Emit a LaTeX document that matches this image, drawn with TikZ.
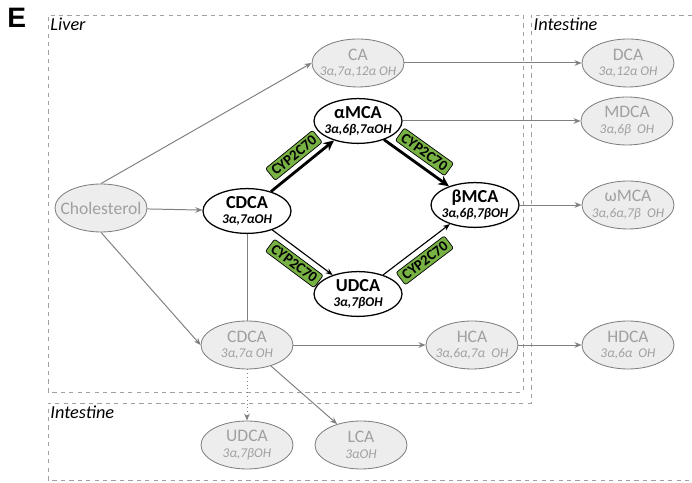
\documentclass[tikz,border=0pt]{standalone}
\usepackage{fontspec}
\setmainfont{Carlito}
\newfontfamily\panelfont{Liberation Sans}
\usetikzlibrary{shapes.geometric,arrows.meta}

\definecolor{acidfill}{HTML}{EDEDED}
\definecolor{acidline}{HTML}{808080}
\definecolor{acidtext}{HTML}{A0A0A0}
\definecolor{regionline}{HTML}{A0A0A0}
\definecolor{enzgreen}{HTML}{78B144}

\tikzset{
  acid/.style={ellipse, inner xsep=-0.3cm, inner ysep=0pt, align=center,
    font=\fontsize{12.5}{12}\selectfont},
  greyacid/.style={acid, minimum width=2.3cm, minimum height=1.2cm,
    draw=acidline, fill=acidfill, text=acidtext, line width=0.6pt},
  mainacid/.style={acid, minimum width=2.2cm, minimum height=1.12cm,
    draw=black, fill=white, line width=0.9pt,
    font=\fontsize{13}{12}\selectfont\bfseries},
  enzyme/.style={draw=black, fill=enzgreen, rounded corners=1.5pt, sloped,
    inner xsep=2.5pt, inner ysep=2pt, line width=0.5pt,
    font=\fontsize{10.5}{10.5}\selectfont\bfseries},
  greyarrow/.style={draw=acidline, line width=0.7pt,
    -{Stealth[length=5pt,width=4pt]}},
  thickarrow/.style={draw=black, line width=2pt,
    -{Stealth[length=7.5pt,width=7pt]}},
  thinarrow/.style={draw=black, line width=0.8pt,
    -{Stealth[length=5pt,width=4pt]}},
  region/.style={draw=regionline, dashed, line width=0.5pt},
  regionname/.style={anchor=north west, inner sep=1pt,
    font=\fontsize{13}{13}\selectfont\itshape}
}
\newcommand{\oh}[1]{\\[-1pt]{\fontsize{9.5}{9.5}\selectfont\itshape #1}}

\begin{document}
\begin{tikzpicture}
\useasboundingbox (0,0) rectangle (17.3,12.075);
% regions
\draw[region] (1.2,2.275) rectangle (13.075,11.7);
\draw[region] (17.3,11.7)--(13.275,11.7)--(13.275,2.0)--(1.2,2.0)
--(1.2,0.075)--(17.3,0.075);
\node[font=\panelfont\fontsize{20}{20}\selectfont\bfseries] (panel) at (0.42,11.62) {E};
\node[regionname] (liver) at (1.22,11.68) {Liver};
\node[regionname] (gutA) at (13.3,11.68) {Intestine};
\node[regionname] (gutB) at (1.22,1.98) {Intestine};

% liver
\node[greyacid] (chol) at (2.525,6.875) {Cholesterol};
\node[greyacid] (ca) at (8.95,10.5) {CA\oh{3α,7α,12α OH}};
\node[mainacid] (cdca) at (6.175,6.8) {CDCA\oh{3α,7αOH}};
\node[mainacid] (amca) at (8.95,9.05) {αMCA\oh{3α,6β,7αOH}};
\node[mainacid] (bmca) at (11.875,6.95) {βMCA\oh{3α,6β,7βOH}};
\node[mainacid] (udca) at (8.95,4.725) {UDCA\oh{3α,7βOH}};
\node[greyacid] (cdcag) at (6.175,3.45) {CDCA\oh{3α,7α OH}};
\node[greyacid] (hca) at (11.8,3.45) {HCA\oh{3α,6α,7α\ \ OH}};

% intestine
\node[greyacid] (dca) at (15.7,10.5) {DCA\oh{3α,12α OH}};
\node[greyacid] (mdca) at (15.675,9.05) {MDCA\oh{3α,6β\ \ OH}};
\node[greyacid] (wmca) at (15.7,6.95) {ωMCA\oh{3α,6α,7β\ \ OH}};
\node[greyacid] (hdca) at (15.7,3.45) {HDCA\oh{3α,6α\ \ OH}};
\node[greyacid] (udcag) at (6.175,0.95) {UDCA\oh{3α,7βOH}};
\node[greyacid] (lca) at (9.025,0.95) {LCA\oh{3αOH}};

\draw[greyarrow] (chol.north)--(ca.west);
\draw[greyarrow] (chol)--(cdca);
\draw[greyarrow] (chol.south)--(cdcag.west);
\draw[thickarrow] (cdca)--node[enzyme,above=4pt] (cypA) {CYP2C70} (amca);
\draw[thickarrow] (amca)--node[enzyme,above=4pt] (cypB) {CYP2C70} (bmca);
\draw[thinarrow] (cdca)--node[enzyme,below=4pt] (cypC) {CYP2C70} (udca);
\draw[thinarrow] (udca)--node[enzyme,below=4pt] (cypD) {CYP2C70} (bmca);
\draw[draw=acidline, line width=0.7pt] (cdca)--(cdcag);
\draw[greyarrow] (ca)--(dca);
\draw[greyarrow] (amca)--(mdca);
\draw[greyarrow] (bmca)--(wmca);
\draw[greyarrow] (cdcag)--(hca);
\draw[greyarrow] (hca)--(hdca);
\draw[greyarrow, dotted] (cdcag)--(udcag);
\draw[greyarrow] (cdcag)--(lca);
\end{tikzpicture}
\end{document}
